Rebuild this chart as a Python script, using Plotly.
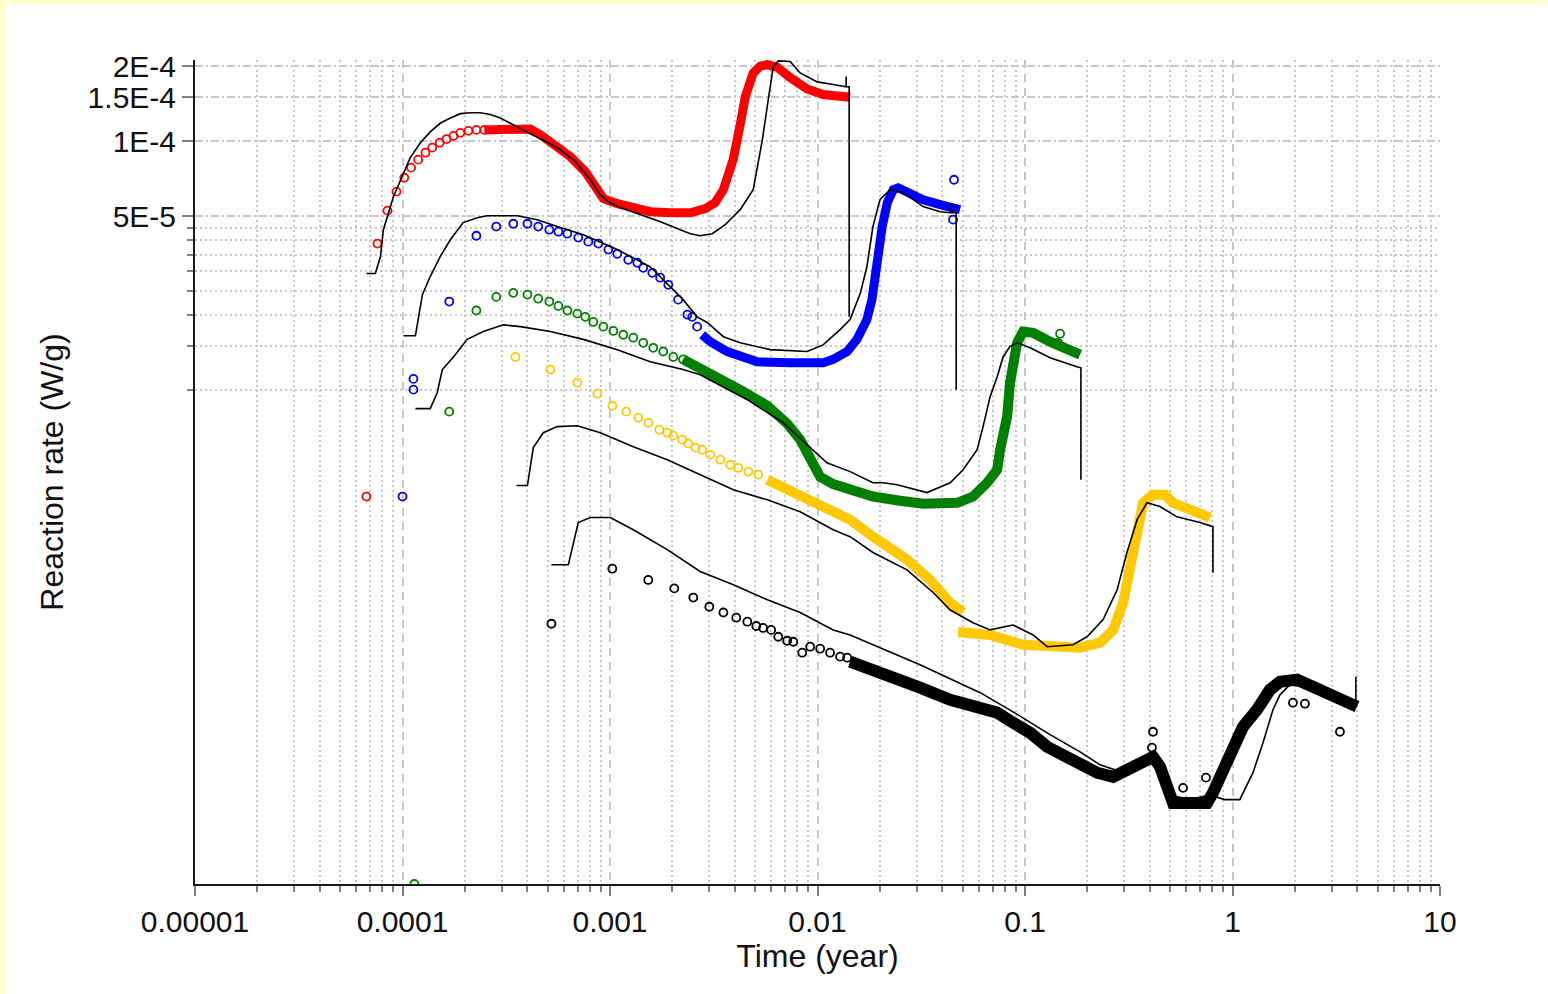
import plotly.graph_objects as go

# ---------------- DATA (time in years, rate in W/g) ----------------
# Red series
red_pts_t = [6.70e-5, 7.57e-5, 8.46e-5, 9.35e-5, 1.02e-4, 1.10e-4, 1.19e-4, 1.29e-4, 1.39e-4, 1.51e-4,
             1.63e-4, 1.76e-4, 1.90e-4, 2.08e-4, 2.27e-4, 2.48e-4]
red_pts_v = [3.74e-6, 3.88e-5, 5.26e-5, 6.27e-5, 7.13e-5, 7.83e-5, 8.43e-5, 8.99e-5, 9.42e-5, 9.86e-5,
             1.02e-4, 1.05e-4, 1.08e-4, 1.10e-4, 1.11e-4, 1.11e-4]
red_band_t = [2.48e-4, 3.20e-4, 4.13e-4, 4.62e-4, 5.45e-4, 6.44e-4, 7.60e-4, 8.49e-4, 9.29e-4, 1.084e-3, 1.295e-3,
              1.563e-3, 1.95e-3, 2.44e-3, 2.88e-3, 3.21e-3, 3.52e-3, 3.93e-3, 4.24e-3, 4.49e-3, 4.90e-3,
              5.30e-3, 5.73e-3, 6.40e-3, 7.38e-3, 8.91e-3, 1.064e-2, 1.436e-2]
red_band_v = [1.11e-4, 1.125e-4, 1.12e-4, 1.062e-4, 9.68e-5, 8.66e-5, 7.54e-5, 6.63e-5, 5.88e-5, 5.61e-5, 5.36e-5,
              5.21e-5, 5.16e-5, 5.16e-5, 5.36e-5, 5.66e-5, 6.39e-5, 8.50e-5, 1.165e-4, 1.51e-4, 1.88e-4,
              2.0e-4, 2.03e-4, 1.98e-4, 1.80e-4, 1.62e-4, 1.54e-4, 1.50e-4]
red_model_t = [6.70e-5, 7.40e-5, 7.83e-5, 8.09e-5, 9.04e-5, 9.77e-5, 1.09e-4, 1.22e-4, 1.36e-4, 1.52e-4,
               1.70e-4, 1.90e-4, 2.12e-4, 2.37e-4, 2.65e-4, 2.96e-4, 3.50e-4, 4.13e-4, 4.88e-4, 5.76e-4,
               6.81e-4, 8.04e-4, 8.98e-4, 9.82e-4, 1.12e-3, 1.40e-3, 1.75e-3, 2.18e-3, 2.44e-3, 2.72e-3,
               3.11e-3, 3.59e-3, 4.24e-3, 4.90e-3, 5.42e-3, 5.79e-3, 6.12e-3, 6.47e-3, 7.38e-3, 8.25e-3,
               9.97e-3, 1.19e-2, 1.374e-2, 1.374e-2, 1.374e-2, 1.421e-2, 1.421e-2]
red_model_v = [2.94e-5, 2.94e-5, 3.44e-5, 4.41e-5, 5.98e-5, 7.00e-5, 8.59e-5, 9.86e-5, 1.09e-4, 1.18e-4,
               1.24e-4, 1.29e-4, 1.30e-4, 1.30e-4, 1.28e-4, 1.24e-4, 1.15e-4, 1.07e-4, 1.00e-4, 9.25e-5,
               8.27e-5, 7.00e-5, 6.10e-5, 5.71e-5, 5.41e-5, 5.07e-5, 4.75e-5, 4.41e-5, 4.25e-5, 4.17e-5,
               4.25e-5, 4.62e-5, 5.31e-5, 6.39e-5, 1.01e-4, 1.47e-4, 1.99e-4, 2.10e-4, 2.09e-4, 1.88e-4,
               1.73e-4, 1.69e-4, 1.655e-4, 1.82e-4, 1.655e-4, 1.655e-4, 1.97e-5]

# Blue series
blue_pts_t = [1.0e-4, 1.129e-4, 1.129e-4, 1.68e-4, 2.27e-4, 2.83e-4, 3.42e-4, 4.00e-4, 4.51e-4, 5.10e-4,
              5.64e-4, 6.23e-4, 7.03e-4, 7.86e-4, 8.79e-4, 9.82e-4, 1.084e-3, 1.225e-3, 1.354e-3, 1.446e-3,
              1.60e-3, 1.746e-3, 1.91e-3, 2.13e-3, 2.36e-3, 2.49e-3, 2.63e-3, 4.55e-2, 4.50e-2]
blue_pts_v = [3.74e-6, 1.11e-5, 1.005e-5, 2.27e-5, 4.17e-5, 4.54e-5, 4.66e-5, 4.66e-5, 4.54e-5, 4.41e-5,
              4.33e-5, 4.25e-5, 4.10e-5, 3.95e-5, 3.88e-5, 3.67e-5, 3.53e-5, 3.34e-5, 3.25e-5, 3.10e-5,
              2.96e-5, 2.83e-5, 2.65e-5, 2.31e-5, 2.01e-5, 1.97e-5, 1.80e-5, 7.00e-5, 4.84e-5]
blue_band_t = [2.78e-3, 3.04e-3, 3.67e-3, 4.24e-3, 5.12e-3, 7.38e-3, 1.064e-2, 1.19e-2, 1.39e-2, 1.55e-2,
               1.73e-2, 1.83e-2, 1.90e-2, 1.96e-2, 2.05e-2, 2.17e-2, 2.32e-2, 2.45e-2, 2.70e-2, 3.23e-2,
               3.90e-2, 4.50e-2, 4.86e-2]
blue_band_v = [1.67e-5, 1.566e-5, 1.43e-5, 1.36e-5, 1.30e-5, 1.29e-5, 1.29e-5, 1.33e-5, 1.43e-5, 1.60e-5,
               1.92e-5, 2.31e-5, 2.96e-5, 3.77e-5, 4.54e-5, 5.66e-5, 6.39e-5, 6.50e-5, 6.27e-5, 5.82e-5,
               5.56e-5, 5.41e-5, 5.31e-5]
blue_model_t = [1.01e-4, 1.154e-4, 1.247e-4, 1.36e-4, 1.52e-4, 1.70e-4, 1.96e-4, 2.29e-4, 2.56e-4, 3.58e-4,
                4.46e-4, 5.57e-4, 7.44e-4, 1.084e-3, 1.563e-3, 2.25e-3, 2.63e-3, 2.94e-3, 3.52e-3, 4.24e-3,
                5.92e-3, 8.91e-3, 1.064e-2, 1.285e-2, 1.436e-2, 1.61e-2, 1.73e-2, 1.85e-2, 2.00e-2, 2.24e-2,
                2.59e-2, 3.23e-2, 3.90e-2, 4.36e-2, 4.40e-2, 4.40e-2, 4.66e-2, 4.66e-2]
blue_model_v = [1.655e-5, 1.655e-5, 2.42e-5, 2.86e-5, 3.44e-5, 4.02e-5, 4.71e-5, 4.93e-5, 5.02e-5, 5.02e-5,
                4.84e-5, 4.54e-5, 4.21e-5, 3.67e-5, 3.13e-5, 2.31e-5, 1.97e-5, 1.87e-5, 1.64e-5, 1.55e-5,
                1.455e-5, 1.43e-5, 1.52e-5, 1.75e-5, 1.92e-5, 2.46e-5, 3.13e-5, 4.54e-5, 5.82e-5, 6.39e-5,
                6.21e-5, 5.46e-5, 5.21e-5, 5.16e-5, 5.56e-5, 5.16e-5, 5.16e-5, 1.005e-5]

# Green series
green_pts_t = [1.141e-4, 1.68e-4, 2.27e-4, 2.83e-4, 3.42e-4, 4.00e-4, 4.51e-4, 5.10e-4, 5.64e-4, 6.23e-4,
               6.96e-4, 7.60e-4, 8.31e-4, 9.29e-4, 1.038e-3, 1.159e-3, 1.295e-3, 1.446e-3, 1.616e-3, 1.806e-3,
               2.02e-3, 2.25e-3, 1.476e-1, 1.444e-1]
green_pts_v = [1.04e-7, 8.20e-6, 2.09e-5, 2.37e-5, 2.46e-5, 2.42e-5, 2.33e-5, 2.27e-5, 2.18e-5, 2.09e-5,
               2.03e-5, 1.97e-5, 1.88e-5, 1.80e-5, 1.73e-5, 1.67e-5, 1.625e-5, 1.55e-5, 1.48e-5, 1.43e-5,
               1.36e-5, 1.33e-5, 1.686e-5, 1.55e-5]
green_band_t = [2.25e-3, 2.63e-3, 3.40e-3, 4.39e-3, 5.73e-3, 7.14e-3, 8.25e-3, 9.22e-3, 1.03e-2, 1.19e-2,
                1.436e-2, 1.85e-2, 2.50e-2, 3.23e-2, 4.71e-2, 5.62e-2, 6.57e-2, 7.34e-2, 7.59e-2, 8.20e-2,
                8.47e-2, 8.76e-2, 9.16e-2, 9.79e-2, 1.094e-1, 1.32e-1, 1.595e-1, 1.842e-1]
green_band_v = [1.33e-5, 1.243e-5, 1.12e-5, 9.86e-6, 8.66e-6, 7.34e-6, 6.33e-6, 5.26e-6, 4.49e-6, 4.20e-6,
                3.98e-6, 3.74e-6, 3.60e-6, 3.50e-6, 3.53e-6, 3.74e-6, 4.25e-6, 4.79e-6, 5.77e-6, 7.83e-6,
                1.072e-5, 1.36e-5, 1.55e-5, 1.72e-5, 1.70e-5, 1.566e-5, 1.455e-5, 1.39e-5]
green_model_t = [1.154e-4, 1.36e-4, 1.47e-4, 1.556e-4, 1.76e-4, 2.05e-4, 2.45e-4, 3.06e-4, 3.70e-4, 5.16e-4,
                 7.44e-4, 1.084e-3, 1.563e-3, 2.25e-3, 2.72e-3, 4.59e-3, 6.83e-3, 9.53e-3, 1.11e-2, 1.436e-2,
                 1.85e-2, 2.07e-2, 2.42e-2, 3.37e-2, 4.36e-2, 5.03e-2, 5.88e-2, 6.28e-2, 6.79e-2, 7.34e-2,
                 7.84e-2, 8.47e-2, 9.16e-2, 1.058e-1, 1.32e-1, 1.78e-1, 1.86e-1, 1.86e-1]
green_model_v = [8.43e-6, 8.43e-6, 9.77e-6, 1.21e-5, 1.36e-5, 1.60e-5, 1.72e-5, 1.83e-5, 1.80e-5, 1.72e-5,
                 1.60e-5, 1.455e-5, 1.30e-5, 1.21e-5, 1.154e-5, 9.16e-6, 7.40e-6, 5.77e-6, 5.11e-6, 4.71e-6,
                 4.25e-6, 4.25e-6, 4.17e-6, 3.88e-6, 4.25e-6, 4.79e-6, 5.77e-6, 7.14e-6, 9.42e-6, 1.13e-5,
                 1.36e-5, 1.50e-5, 1.55e-5, 1.48e-5, 1.35e-5, 1.243e-5, 1.23e-5, 4.37e-6]

# Yellow series
yel_pts_t = [3.50e-4, 5.16e-4, 6.96e-4, 8.69e-4, 1.026e-3, 1.198e-3, 1.369e-3, 1.529e-3, 1.728e-3, 1.888e-3,
             2.02e-3, 2.23e-3, 2.38e-3, 2.58e-3, 2.78e-3, 3.04e-3, 3.40e-3, 3.80e-3, 4.15e-3, 4.64e-3, 5.18e-3]
yel_pts_v = [1.36e-5, 1.21e-5, 1.072e-5, 9.68e-6, 8.66e-6, 8.20e-6, 7.76e-6, 7.40e-6, 6.94e-6, 6.75e-6,
             6.57e-6, 6.33e-6, 6.10e-6, 5.88e-6, 5.77e-6, 5.51e-6, 5.26e-6, 5.02e-6, 4.88e-6, 4.71e-6, 4.58e-6]
yel_band_t = [5.73e-3, 6.83e-3, 8.25e-3, 9.97e-3, 1.19e-2, 1.436e-2, 1.85e-2, 2.70e-2, 3.49e-2, 4.36e-2,
              5.03e-2, None, 4.76e-2, 6.79e-2, 9.79e-2, 1.428e-1, 1.842e-1, 2.30e-1, 2.66e-1, 2.97e-1,
              3.21e-1, 3.47e-1, 3.71e-1, 4.14e-1, 4.73e-1, 5.17e-1, 6.24e-1, 7.79e-1]
yel_band_v = [4.37e-6, 4.06e-6, 3.74e-6, 3.53e-6, 3.25e-6, 3.02e-6, 2.58e-6, 2.09e-6, 1.73e-6, 1.40e-6,
              1.28e-6, None, 1.07e-6, 1.04e-6, 9.50e-7, 9.25e-7, 9.25e-7, 9.68e-7, 1.09e-6, 1.40e-6,
              1.90e-6, 2.75e-6, 3.53e-6, 3.80e-6, 3.80e-6, 3.53e-6, 3.31e-6, 3.08e-6]
yel_model_t = [3.54e-4, 4.00e-4, 4.27e-4, 4.77e-4, 5.57e-4, 6.96e-4, 8.98e-4, 1.295e-3, 1.888e-3, 2.72e-3,
               3.93e-3, 5.73e-3, 8.25e-3, 1.19e-2, 1.436e-2, 1.85e-2, 2.70e-2, 3.61e-2, 4.36e-2, 5.62e-2,
               6.79e-2, 8.76e-2, 1.094e-1, 1.278e-1, 1.705e-1, 1.99e-1, 2.38e-1, 2.78e-1, 3.10e-1, 3.47e-1,
               3.87e-1, 4.47e-1, 5.40e-1, 6.97e-1, 8.05e-1, 8.05e-1]
yel_model_v = [4.14e-6, 4.14e-6, 5.88e-6, 6.75e-6, 7.14e-6, 7.20e-6, 6.75e-6, 5.93e-6, 5.26e-6, 4.58e-6,
               3.98e-6, 3.63e-6, 3.25e-6, 2.75e-6, 2.58e-6, 2.23e-6, 1.90e-6, 1.54e-6, 1.31e-6, 1.165e-6,
               1.09e-6, 1.14e-6, 1.04e-6, 9.33e-7, 9.50e-7, 1.023e-6, 1.20e-6, 1.58e-6, 2.23e-6, 3.02e-6,
               3.53e-6, 3.41e-6, 3.10e-6, 2.94e-6, 2.83e-6, 1.85e-6]

# Black series
blk_pts_t = [5.22e-4, 1.026e-3, 1.529e-3, 2.04e-3, 2.52e-3, 3.01e-3, 3.52e-3, 4.06e-3, 4.59e-3, 5.07e-3,
             5.47e-3, 5.98e-3, 6.47e-3, 7.14e-3, 7.64e-3, 8.44e-3, 9.22e-3, 1.03e-2, 1.15e-2, 1.285e-2,
             1.39e-2, 4.14e-1, 4.09e-1, 7.45e-1, 3.295, 1.956, 2.234, 5.78e-1]
blk_pts_v = [1.154e-6, 1.92e-6, 1.73e-6, 1.60e-6, 1.47e-6, 1.35e-6, 1.28e-6, 1.22e-6, 1.176e-6, 1.13e-6,
             1.11e-6, 1.09e-6, 1.023e-6, 9.86e-7, 9.77e-7, 8.83e-7, 9.33e-7, 9.16e-7, 8.83e-7, 8.51e-7,
             8.43e-7, 4.25e-7, 3.67e-7, 2.78e-7, 4.25e-7, 5.56e-7, 5.51e-7, 2.53e-7]
blk_band_t = [1.436e-2, 2.00e-2, 3.12e-2, 4.36e-2, 6.08e-2, 7.34e-2, 8.76e-2, 1.058e-1, 1.278e-1, 1.526e-1,
              1.842e-1, 2.225e-1, 2.66e-1, 3.21e-1, 3.87e-1, 4.14e-1, 4.47e-1, 4.84e-1, 5.17e-1, 6.04e-1,
              7.53e-1, 8.05e-1, 8.99e-1, 1.006, 1.124, 1.312, 1.516, 1.694, 2.045, 2.442,
              2.949, 3.561, 3.98]
blk_band_v = [8.12e-7, 7.40e-7, 6.39e-7, 5.71e-7, 5.36e-7, 5.07e-7, 4.62e-7, 4.21e-7, 3.70e-7, 3.44e-7,
              3.13e-7, 2.91e-7, 2.80e-7, 3.05e-7, 3.28e-7, 3.37e-7, 3.08e-7, 2.56e-7, 2.20e-7, 2.20e-7,
              2.20e-7, 2.42e-7, 2.91e-7, 3.60e-7, 4.45e-7, 5.21e-7, 6.27e-7, 6.75e-7, 6.88e-7, 6.45e-7,
              5.98e-7, 5.56e-7, 5.36e-7]
blk_model_t = [5.22e-4, 6.30e-4, 7.03e-4, 8.04e-4, 1.003e-3, 1.295e-3, 1.888e-3, 2.72e-3, 3.93e-3, 5.73e-3,
               8.25e-3, 1.19e-2, 1.436e-2, 3.12e-2, 6.08e-2, 8.76e-2, 1.32e-1, 1.842e-1, 2.30e-1, 2.87e-1,
               3.58e-1, 4.01e-1, 4.47e-1, 5.00e-1, 6.24e-1, 7.79e-1, 9.16e-1, 1.084, 1.255, 1.403,
               1.567, 1.694, 1.892, 2.362, 2.949, 3.68, 3.93, 3.93]
blk_model_v = [1.99e-6, 1.99e-6, 2.94e-6, 3.08e-6, 3.08e-6, 2.75e-6, 2.29e-6, 1.87e-6, 1.655e-6, 1.44e-6,
               1.28e-6, 1.09e-6, 1.04e-6, 7.90e-7, 6.10e-7, 5.11e-7, 4.14e-7, 3.53e-7, 3.13e-7, 2.94e-7,
               3.13e-7, 3.37e-7, 2.86e-7, 2.37e-7, 2.27e-7, 2.37e-7, 2.27e-7, 2.27e-7, 2.91e-7, 3.84e-7,
               5.21e-7, 5.98e-7, 6.57e-7, 6.39e-7, 5.98e-7, 5.61e-7, 5.46e-7, 7.07e-7]

# Axis ticks
x_tick_vals = [1e-5, 1e-4, 1e-3, 1e-2, 1e-1, 1, 10]
x_tick_text = ["0.00001", "0.0001", "0.001", "0.01", "0.1", "1", "10"]
x_minor_vals = [m * 10.0 ** k for k in range(-5, 1) for m in range(2, 10)]
y_tick_vals = [5e-5, 1e-4, 1.5e-4, 2e-4]
y_tick_text = ["5E-5", "1E-4", "1.5E-4", "2E-4"]
y_minor_vals = [1e-5, 1.5e-5, 2e-5, 2.5e-5, 3e-5, 3.5e-5, 4e-5, 4.5e-5]

# ---------------- STYLE ----------------
RED, BLUE, GREEN, GOLD, BLACK = "#ff0000", "#0000ff", "#008000", "#ffc800", "#000000"
FONT = "Liberation Sans, Arial, sans-serif"
TXT = "#111111"
MK = dict(symbol="circle-open", size=8, line=dict(width=1.8))

fig = go.Figure()

def add_series(pt_t, pt_v, band_t, band_v, color, band_w):
    fig.add_trace(go.Scatter(x=band_t, y=band_v, mode="lines", connectgaps=False,
                             line=dict(color=color, width=band_w), hoverinfo="skip"))
    fig.add_trace(go.Scatter(x=pt_t, y=pt_v, mode="markers",
                             marker=dict(color=color, **MK), hoverinfo="skip"))

add_series(red_pts_t, red_pts_v, red_band_t, red_band_v, RED, 9)
add_series(blue_pts_t, blue_pts_v, blue_band_t, blue_band_v, BLUE, 9)
add_series(green_pts_t, green_pts_v, green_band_t, green_band_v, GREEN, 10)
add_series(yel_pts_t, yel_pts_v, yel_band_t, yel_band_v, GOLD, 10)
add_series(blk_pts_t, blk_pts_v, blk_band_t, blk_band_v, BLACK, 12)

for mt, mv in [(red_model_t, red_model_v), (blue_model_t, blue_model_v), (green_model_t, green_model_v),
               (yel_model_t, yel_model_v), (blk_model_t, blk_model_v)]:
    fig.add_trace(go.Scatter(x=mt, y=mv, mode="lines", line=dict(color=BLACK, width=1.6),
                             hoverinfo="skip"))

GRID = "#c8c8c8"
fig.update_layout(
    width=1548, height=994,
    margin=dict(l=195, r=108, t=60, b=110),
    paper_bgcolor="#ffffff", plot_bgcolor="#ffffff",
    showlegend=False,
    font=dict(family=FONT, color=TXT),
    xaxis=dict(
        type="log", range=[-5, 1], tickmode="array", tickvals=x_tick_vals, ticktext=x_tick_text,
        ticks="outside", ticklen=10, tickwidth=2, tickcolor="#808080",
        showline=True, linecolor="#1a1a1a", linewidth=2, zeroline=False,
        showgrid=True, gridcolor=GRID, gridwidth=1.5, griddash="8px,6px",
        tickfont=dict(family=FONT, size=30, color=TXT),
        title=dict(text="Time (year)", font=dict(family=FONT, size=32, color=TXT), standoff=8),
        minor=dict(tickmode="array", tickvals=x_minor_vals, ticks="outside", ticklen=6, tickwidth=1.5,
                   tickcolor="#808080", showgrid=True, gridcolor=GRID, gridwidth=1.5, griddash="2px,3px"),
    ),
    yaxis=dict(
        type="log", range=[-6.983, -3.674], tickmode="array", tickvals=y_tick_vals, ticktext=y_tick_text,
        ticks="outside", ticklen=11, tickwidth=2, tickcolor="#808080",
        showline=True, linecolor="#1a1a1a", linewidth=2, zeroline=False,
        showgrid=True, gridcolor=GRID, gridwidth=1.5, griddash="8px,3px,2px,3px",
        tickfont=dict(family=FONT, size=30, color=TXT),
        title=dict(text="Reaction rate (W/g)", font=dict(family=FONT, size=32, color=TXT), standoff=14),
        minor=dict(tickmode="array", tickvals=y_minor_vals, ticks="outside", ticklen=6, tickwidth=1.5,
                   tickcolor="#808080", showgrid=True, gridcolor=GRID, gridwidth=1.5, griddash="2px,3px"),
    ),
    shapes=[
        dict(type="rect", xref="paper", yref="paper", x0=-0.3, x1=1.3, y0=1.068, y1=1.2,
             fillcolor="#ffffd0", line=dict(width=0), layer="above"),
        dict(type="rect", xref="paper", yref="paper", x0=-0.3, x1=-0.1518, y0=-0.3, y1=1.2,
             fillcolor="#ffffd0", line=dict(width=0), layer="above"),
    ],
)

fig.write_html("out.html", config={"displayModeBar": False},
               post_script="document.body.style.margin='0px';document.body.style.overflow='hidden';")
